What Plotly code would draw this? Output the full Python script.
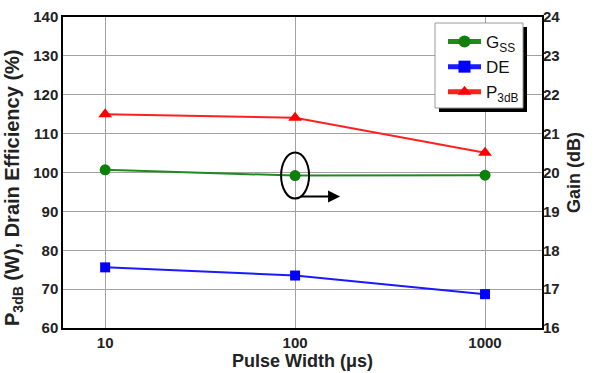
import math
import plotly.graph_objects as go

pulse_width = [10, 100, 1000]
gss_db = [20.07, 19.92, 19.93]
de_pct = [75.6, 73.5, 68.7]
p3db_w = [115.0, 114.1, 105.1]
x_ticks = [10, 100, 1000]
y_left_ticks = list(range(60, 141, 10))
y_right_ticks = list(range(16, 25))

FONT = "Arial, Liberation Sans, sans-serif"
L, R, T, B = 63, 542, 17, 328   # plot area in pixels
PW, PH = R - L, B - T
XR = [math.log10(6.0), math.log10(1995)]
Y2R = [16, 24]
GRID = "#a2a2a2"


def px(xp):
    return (xp - L) / PW


def py(yp):
    return (B - yp) / PH


fig = go.Figure()
fig.add_trace(go.Scatter(
    x=pulse_width, y=gss_db, name="G<sub>SS</sub>", yaxis="y2",
    mode="lines+markers",
    line=dict(color="#1f8a1f", width=2),
    marker=dict(symbol="circle", size=11, color="#0b800b")))
fig.add_trace(go.Scatter(
    x=pulse_width, y=de_pct, name="DE",
    mode="lines+markers",
    line=dict(color="#1a1aff", width=2),
    marker=dict(symbol="square", size=10, color="#0000ff")))
fig.add_trace(go.Scatter(
    x=pulse_width, y=p3db_w, name="P<sub>3dB</sub>",
    mode="lines+markers",
    line=dict(color="#ff2020", width=2),
    marker=dict(symbol="triangle-up", size=12, color="#ff0000")))

bold = dict(family=FONT, size=15, color="#222", weight="bold")
tfont = dict(family=FONT, size=18, color="#222", weight="bold")

fig.update_layout(
    width=603, height=373,
    margin=dict(l=L, r=603 - R, t=T, b=373 - B),
    paper_bgcolor="white", plot_bgcolor="white",
    font=dict(family=FONT),
    xaxis=dict(
        type="log", range=XR,
        tickvals=x_ticks, ticktext=[str(v) for v in x_ticks],
        tickfont=bold, showgrid=True, gridcolor=GRID, gridwidth=1.3,
        showline=True, linecolor="black", linewidth=1.5, mirror=True,
        ticks="", zeroline=False, automargin=False,
        title=dict(text="Pulse Width (μs)", font=tfont, standoff=0)),
    yaxis=dict(
        range=[60, 140], tickvals=y_left_ticks, tickfont=bold,
        showgrid=True, gridcolor=GRID, gridwidth=1.3,
        showline=True, linecolor="black", linewidth=1.5, mirror=True,
        ticks="", zeroline=False, automargin=False),
    yaxis2=dict(
        overlaying="y", side="right", range=Y2R, tickvals=y_right_ticks,
        tickfont=bold, showgrid=False, zeroline=False, ticks="", automargin=False,
        title=dict(text="Gain (dB)", font=tfont, standoff=8)),
    legend=dict(
        x=px(443), y=py(24), xanchor="left", yanchor="top",
        bgcolor="rgba(0,0,0,0)", borderwidth=0,
        font=dict(family=FONT, size=17, color="#111"),
        itemsizing="constant", itemwidth=33, tracegroupgap=0),
    showlegend=True,
)

# left axis title placed as rotated text
fig.add_annotation(text="P<sub>3dB</sub> (W), Drain Efficiency (%)",
                   xref="paper", yref="paper", x=px(13), y=py(188),
                   xanchor="center", yanchor="middle", textangle=-90,
                   showarrow=False, font=dict(family=FONT, size=20, color="#222", weight="bold"))

# legend drop shadow and box
fig.add_shape(type="rect", xref="paper", yref="paper",
              x0=px(439), x1=px(527), y0=py(112), y1=py(27),
              fillcolor="black", line=dict(width=0), layer="above")
fig.add_shape(type="rect", xref="paper", yref="paper",
              x0=px(435), x1=px(523), y0=py(108), y1=py(23),
              fillcolor="white", line=dict(color="#999", width=1), layer="above")

# ellipse around the Gss point at 100 us (paper coords derived from the data point)
cx = (math.log10(pulse_width[1]) - XR[0]) / (XR[1] - XR[0])
cy = (gss_db[1] - Y2R[0]) / (Y2R[1] - Y2R[0])
hw, hh = 14 / PW, 23 / PH
fig.add_shape(type="circle", xref="paper", yref="paper",
              x0=cx - hw, x1=cx + hw, y0=cy - hh, y1=cy + hh,
              line=dict(color="black", width=2), layer="above")

# arrow pointing to right axis
fig.add_annotation(x=math.log10(pulse_width[1]), y=gss_db[1], xref="x", yref="y2",
                   text="", showarrow=True, ax=-41, ay=0,
                   xshift=45, yshift=-21,
                   arrowhead=2, arrowsize=1.2, arrowwidth=2, arrowcolor="black")

fig.write_html("out.html", config={"displayModeBar": False},
               post_script="document.body.style.margin='0';")
